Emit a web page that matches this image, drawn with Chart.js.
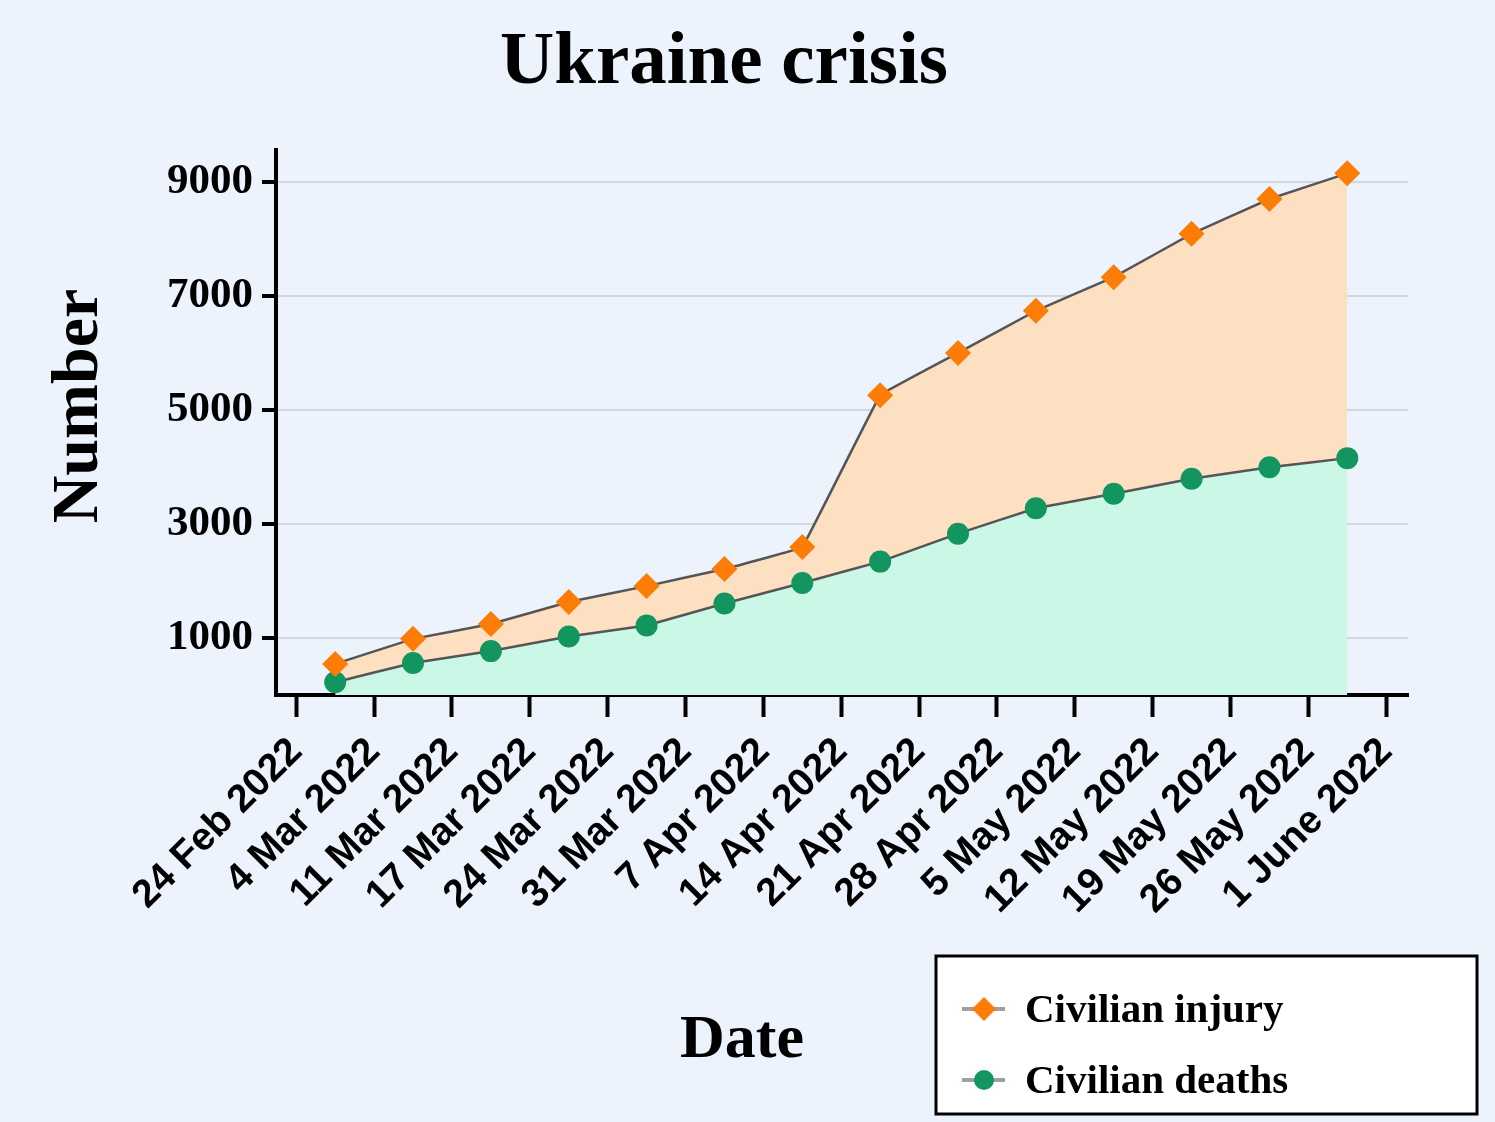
<!DOCTYPE html>
<html>
<head>
<meta charset="utf-8">
<title>Ukraine crisis</title>
<script src="https://cdn.jsdelivr.net/npm/chart.js@4.4.1/dist/chart.umd.min.js"></script>
<style>
    html, body { margin: 0; padding: 0; background: #edf3fc; }
    #wrap { width: 1495px; height: 1122px; }
</style>
</head>
<body>
<div id="wrap"><canvas id="crisisChart" width="1495" height="1122"></canvas></div>
<script>
// Data
const dateLabels = ['24 Feb 2022', '4 Mar 2022', '11 Mar 2022', '17 Mar 2022', '24 Mar 2022', '31 Mar 2022',
    '7 Apr 2022', '14 Apr 2022', '21 Apr 2022', '28 Apr 2022', '5 May 2022', '12 May 2022',
    '19 May 2022', '26 May 2022', '1 June 2022'];
const injuryValues = [545, 985, 1245, 1630, 1910, 2210, 2595, 5260, 6000, 6740, 7330, 8090, 8700, 9150];
const deathValues = [225, 560, 770, 1025, 1220, 1605, 1965, 2340, 2830, 3275, 3530, 3795, 3995, 4155];
const yTickValues = [1000, 3000, 5000, 7000, 9000];
const seriesNames = ['Civilian injury', 'Civilian deaths'];

const SERIF = '"Liberation Serif", "Times New Roman", serif';
const SANS = '"Liberation Sans", Arial, sans-serif';

// each weekly value sits between two date ticks
function toPoints(values) {
    return values.map((v, i) => ({ x: i + 0.5, y: v }));
}

// title, axis titles and the boxed legend
const decorations = {
    id: 'decorations',
    afterDraw(chart) {
        const ctx = chart.ctx;
        ctx.save();
        ctx.fillStyle = '#000';

        ctx.font = 'bold 75px ' + SERIF;
        ctx.textAlign = 'center';
        ctx.textBaseline = 'alphabetic';
        ctx.fillText('Ukraine crisis', 724, 83);

        ctx.font = 'bold 62px ' + SERIF;
        ctx.fillText('Date', 742, 1057);

        ctx.save();
        ctx.translate(97, 406);
        ctx.rotate(-Math.PI / 2);
        ctx.font = 'bold 66px ' + SERIF;
        ctx.fillText('Number', 0, 0);
        ctx.restore();

        // legend box
        ctx.fillStyle = '#fff';
        ctx.fillRect(936, 956, 541, 158);
        ctx.strokeStyle = '#000';
        ctx.lineWidth = 3;
        ctx.strokeRect(936, 956, 541, 158);

        const rows = [1009, 1080];
        rows.forEach((y, i) => {
            ctx.strokeStyle = '#a0a0a0';
            ctx.lineWidth = 4;
            ctx.beginPath();
            ctx.moveTo(962, y);
            ctx.lineTo(1005, y);
            ctx.stroke();
            if (i === 0) {
                ctx.fillStyle = '#fb7d07';
                ctx.beginPath();
                ctx.moveTo(984, y - 12);
                ctx.lineTo(996, y);
                ctx.lineTo(984, y + 12);
                ctx.lineTo(972, y);
                ctx.closePath();
                ctx.fill();
            } else {
                ctx.fillStyle = '#13955f';
                ctx.beginPath();
                ctx.arc(984, y, 10, 0, Math.PI * 2);
                ctx.fill();
            }
            ctx.fillStyle = '#000';
            ctx.font = 'bold 41px ' + SERIF;
            ctx.textAlign = 'left';
            ctx.fillText(seriesNames[i], 1025, y + 13);
        });
        ctx.restore();
    }
};

document.addEventListener('DOMContentLoaded', function() {
    const ctx = document.getElementById('crisisChart').getContext('2d');
    new Chart(ctx, {
        type: 'line',
        data: {
            datasets: [{
                label: seriesNames[0],
                data: toPoints(injuryValues),
                borderColor: '#555555',
                borderWidth: 2.5,
                backgroundColor: '#fde0c2',
                fill: '+1',
                tension: 0.03,
                pointStyle: 'rectRot',
                pointRadius: 13,
                pointBorderWidth: 0,
                pointBackgroundColor: '#fb7d07'
            }, {
                label: seriesNames[1],
                data: toPoints(deathValues),
                borderColor: '#555555',
                borderWidth: 2.5,
                backgroundColor: '#cbf7e6',
                fill: 'origin',
                tension: 0.03,
                pointStyle: 'circle',
                pointRadius: 11,
                pointBorderWidth: 0,
                pointBackgroundColor: '#13955f'
            }]
        },
        options: {
            responsive: false,
            animation: false,
            devicePixelRatio: 1,
            layout: { padding: { top: 150, right: 87, left: 0, bottom: 0 } },
            plugins: {
                legend: { display: false },
                title: { display: false },
                tooltip: { enabled: false },
                filler: { drawTime: 'beforeDatasetsDraw' }
            },
            scales: {
                x: {
                    type: 'linear',
                    min: -0.26,
                    max: 14.28,
                    afterBuildTicks: scale => {
                        scale.ticks = dateLabels.map((_, i) => ({ value: i }));
                    },
                    afterFit: scale => { scale.height = 427; },
                    ticks: {
                        autoSkip: false,
                        minRotation: 45,
                        maxRotation: 45,
                        padding: 12,
                        color: '#000',
                        font: { family: SANS, weight: 'bold', size: 39 },
                        callback: value => dateLabels[value]
                    },
                    grid: { drawOnChartArea: false, tickLength: 22, tickColor: '#000', tickWidth: 4 },
                    border: { color: '#000', width: 4 }
                },
                y: {
                    min: 0,
                    max: 9560,
                    afterBuildTicks: scale => {
                        scale.ticks = yTickValues.map(v => ({ value: v }));
                    },
                    afterFit: scale => { scale.width = 276; },
                    ticks: {
                        padding: 9,
                        color: '#000',
                        font: { family: SERIF, weight: 'bold', size: 43 },
                        callback: value => String(value)
                    },
                    grid: { color: '#d3d6dc', lineWidth: 2, tickLength: 14, tickColor: '#000', tickWidth: 4 },
                    border: { color: '#000', width: 4 }
                }
            }
        },
        plugins: [decorations]
    });
});
</script>
</body>
</html>
